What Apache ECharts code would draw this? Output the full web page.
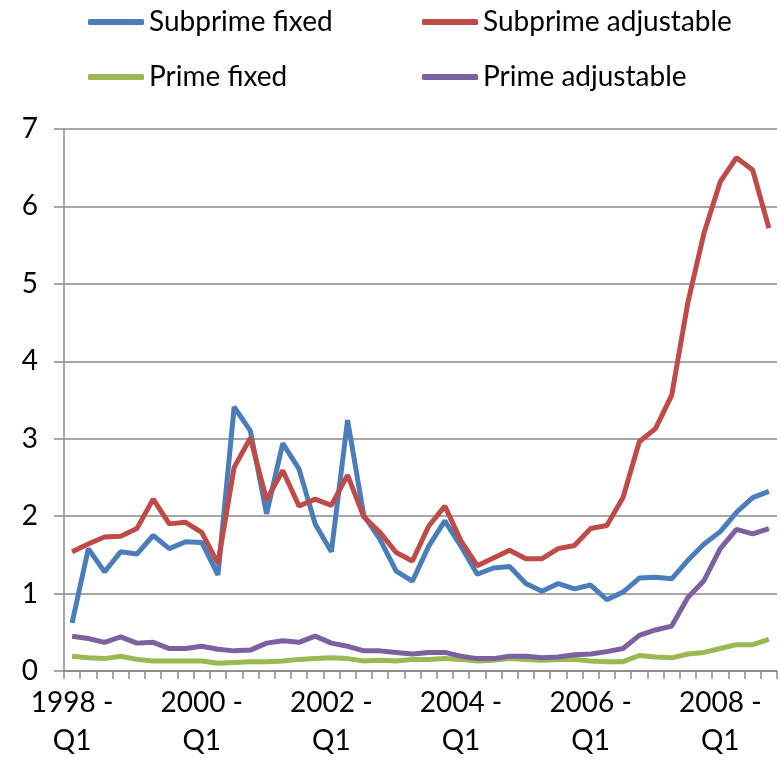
<!DOCTYPE html>
<html>
<head>
<meta charset="utf-8">
<script src="https://cdn.jsdelivr.net/npm/echarts@6/dist/echarts.min.js"></script>
<style>
  html, body { margin: 0; padding: 0; background: #fff; }
  #chart { width: 780px; height: 773px; }
</style>
</head>
<body>
<div id="chart"></div>
<script>
// quarters 1998 Q1 .. 2008 Q4
const years = [1998, 1999, 2000, 2001, 2002, 2003, 2004, 2005, 2006, 2007, 2008]
const quarters = []
years.forEach((y) => {
  for (let q = 1; q <= 4; q++) quarters.push(y + ' - Q' + q)
})

const subprimeFixed = [
  0.62, 1.58, 1.28, 1.54, 1.51, 1.75, 1.58, 1.67, 1.66, 1.24, 3.41,
  3.10, 2.03, 2.94, 2.61, 1.90, 1.54, 3.24, 2.01, 1.70, 1.29, 1.16,
  1.61, 1.94, 1.61, 1.25, 1.33, 1.35, 1.13, 1.03, 1.13, 1.06, 1.11,
  0.92, 1.02, 1.20, 1.21, 1.19, 1.43, 1.64, 1.80, 2.05, 2.24, 2.32
]
const subprimeAdjustable = [
  1.54, 1.64, 1.73, 1.74, 1.84, 2.22, 1.90, 1.92, 1.79, 1.39, 2.63,
  3.01, 2.21, 2.59, 2.13, 2.22, 2.14, 2.53, 1.99, 1.79, 1.53, 1.42,
  1.87, 2.13, 1.68, 1.36, 1.46, 1.56, 1.45, 1.45, 1.58, 1.62, 1.84,
  1.88, 2.24, 2.96, 3.13, 3.56, 4.76, 5.66, 6.32, 6.63, 6.47, 5.72
]
const primeFixed = [
  0.19, 0.17, 0.16, 0.19, 0.15, 0.13, 0.13, 0.13, 0.13, 0.10, 0.11,
  0.12, 0.12, 0.13, 0.15, 0.16, 0.17, 0.16, 0.13, 0.14, 0.13, 0.15,
  0.15, 0.16, 0.15, 0.13, 0.14, 0.16, 0.15, 0.14, 0.15, 0.15, 0.13,
  0.12, 0.12, 0.20, 0.18, 0.17, 0.22, 0.24, 0.29, 0.34, 0.34, 0.41
]
const primeAdjustable = [
  0.45, 0.42, 0.37, 0.44, 0.36, 0.37, 0.29, 0.29, 0.32, 0.28, 0.26,
  0.27, 0.36, 0.39, 0.37, 0.45, 0.36, 0.32, 0.26, 0.26, 0.24, 0.22,
  0.24, 0.24, 0.19, 0.16, 0.16, 0.19, 0.19, 0.17, 0.18, 0.21, 0.22,
  0.25, 0.29, 0.46, 0.53, 0.58, 0.95, 1.17, 1.58, 1.83, 1.77, 1.84
]

const fontFamily = 'Lato, "Open Sans", sans-serif'
const gray = '#8a8a8a'

const chart = echarts.init(document.getElementById('chart'))

const legendBase = {
  left: 88,
  padding: 0,
  itemWidth: 56,
  itemHeight: 6,
  itemGap: 10,
  icon: 'roundRect',
  textStyle: { fontFamily, fontSize: 28, color: '#000', width: 263, lineHeight: 30 }
}

const makeSeries = (name, data, color) => ({
  name,
  type: 'line',
  data,
  showSymbol: false,
  symbol: 'none',
  lineStyle: { width: 5, color },
  itemStyle: { color },
  z: 3
})

chart.setOption({
  animation: false,
  textStyle: { fontFamily },
  legend: [
    Object.assign({ top: 7, data: ['Subprime fixed', 'Subprime adjustable'] }, legendBase),
    Object.assign({ top: 62, data: ['Prime fixed', 'Prime adjustable'] }, legendBase)
  ],
  grid: { left: 64, right: 3, top: 129, bottom: 102 },
  xAxis: {
    type: 'category',
    data: quarters,
    boundaryGap: true,
    axisLine: { lineStyle: { color: gray, width: 1.5 } },
    axisTick: { show: true, interval: 0, length: 8, lineStyle: { color: gray, width: 1.5 } },
    axisLabel: {
      interval: 7,
      margin: 13,
      fontSize: 28,
      lineHeight: 38,
      color: '#000',
      formatter: (v) => v.replace(' - ', ' -\n')
    }
  },
  yAxis: {
    type: 'value',
    min: 0,
    max: 7,
    interval: 1,
    axisLine: { show: true, lineStyle: { color: gray, width: 1.5 } },
    axisTick: { show: true, length: 10, lineStyle: { color: gray, width: 1.5 } },
    splitLine: { lineStyle: { color: gray, width: 1.5 } },
    axisLabel: { margin: 26, fontSize: 28, color: '#000' }
  },
  series: [
    makeSeries('Subprime fixed', subprimeFixed, '#4a7ebb'),
    makeSeries('Subprime adjustable', subprimeAdjustable, '#be4b48'),
    makeSeries('Prime fixed', primeFixed, '#98b954'),
    makeSeries('Prime adjustable', primeAdjustable, '#7d60a0')
  ]
})
</script>
</body>
</html>
